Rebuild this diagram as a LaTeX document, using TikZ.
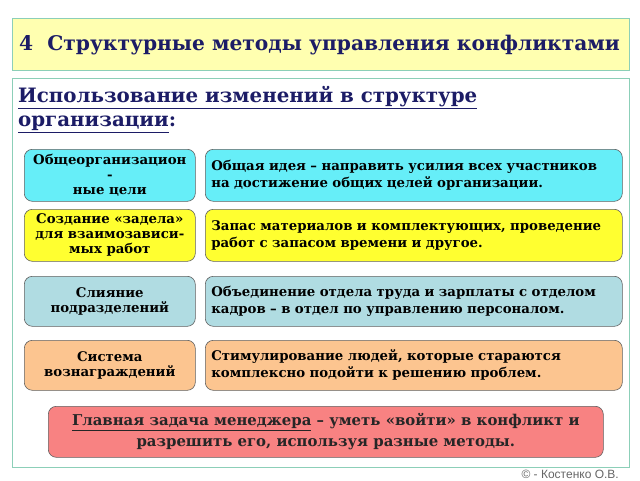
\documentclass[tikz,border=0pt]{standalone}
\usepackage{fontspec}
\setmainfont{DejaVu Serif}
\setsansfont{Liberation Sans}
\definecolor{frame}{HTML}{8CCFB8}
\definecolor{titlefill}{HTML}{FFFFB0}
\definecolor{navy}{HTML}{1C1C66}
\definecolor{cyanf}{HTML}{66EEF8}
\definecolor{yelf}{HTML}{FFFF30}
\definecolor{bluef}{HTML}{B0DCE2}
\definecolor{peachf}{HTML}{FCC590}
\definecolor{pinkf}{HTML}{F88282}
\definecolor{boxedge}{HTML}{606060}
\tikzset{
  panel/.style={draw=frame, line width=1.2pt},
  cell/.style={draw=boxedge, line width=0.6pt, rounded corners=8pt, align=center, font=\bfseries\fontsize{13.3}{15.5}\selectfont, text=black, inner sep=2pt},
  wide/.style={cell, align=left, font=\bfseries\fontsize{13.3}{17}\selectfont},
}
\begin{document}
\begin{tikzpicture}[x=1pt,y=-1pt]
\useasboundingbox (0,0) rectangle (640,480);
\fill[white] (0,0) rectangle (640,480);
% title panel
\node[panel, fill=titlefill, minimum width=617pt, minimum height=52pt, anchor=north west, inner sep=0pt] (title) at (12,18) {};
\node[anchor=west, text=navy, font=\bfseries\fontsize{20.2}{23}\selectfont, inner sep=0pt] (titletext) at (19,45) {4\ \ Структурные методы управления конфликтами};
% main panel
\node[panel, fill=white, minimum width=617pt, minimum height=389pt, anchor=north west, inner sep=0pt] (main) at (12,78) {};
\node[anchor=north west, align=left, text=navy, font=\bfseries\fontsize{19.8}{24}\selectfont, inner sep=0pt] (sub) at (18,86) {\underline{Использование изменений в структуре}\\\underline{организации}:};
% rows
\node[cell, fill=cyanf, minimum width=171pt, minimum height=52pt, anchor=north west, font=\bfseries\fontsize{13.3}{15}\selectfont] (l1) at (24,149) {Общеорганизацион\\-\\ные цели};
\node[wide, fill=cyanf, minimum width=417pt, minimum height=52pt, anchor=north west, text width=405pt] (r1) at (205,149) {Общая идея – направить усилия всех участников\\на достижение общих целей организации.};
\node[cell, fill=yelf, minimum width=171pt, minimum height=52pt, anchor=north west, font=\bfseries\fontsize{13.3}{15}\selectfont] (l2) at (24,209) {Создание «задела»\\для взаимозависи-\\мых работ};
\node[wide, fill=yelf, minimum width=417pt, minimum height=52pt, anchor=north west, text width=405pt] (r2) at (205,209) {Запас материалов и комплектующих, проведение\\работ с запасом времени и другое.};
\node[cell, fill=bluef, minimum width=171pt, minimum height=50pt, anchor=north west] (l3) at (24,276) {Слияние\\подразделений};
\node[wide, fill=bluef, minimum width=417pt, minimum height=50pt, anchor=north west, text width=405pt] (r3) at (205,276) {Объединение отдела труда и зарплаты с отделом\\кадров – в отдел по управлению персоналом.};
\node[cell, fill=peachf, minimum width=171pt, minimum height=50pt, anchor=north west] (l4) at (24,340) {Система\\вознаграждений};
\node[wide, fill=peachf, minimum width=417pt, minimum height=50pt, anchor=north west, text width=405pt] (r4) at (205,340) {Стимулирование людей, которые стараются\\комплексно подойти к решению проблем.};
% bottom
\node[cell, fill=pinkf, minimum width=555pt, minimum height=51pt, anchor=north west, font=\bfseries\fontsize{14.9}{21}\selectfont, text=black!85] (task) at (48,406) {\underline{Главная задача менеджера} – уметь «войти» в конфликт и\\разрешить его, используя разные методы.};
\node[anchor=east, text=black!60, font=\sffamily\fontsize{12}{13}\selectfont, inner sep=0pt] (copy) at (619,474) {© - Костенко О.В.};
\end{tikzpicture}
\end{document}
